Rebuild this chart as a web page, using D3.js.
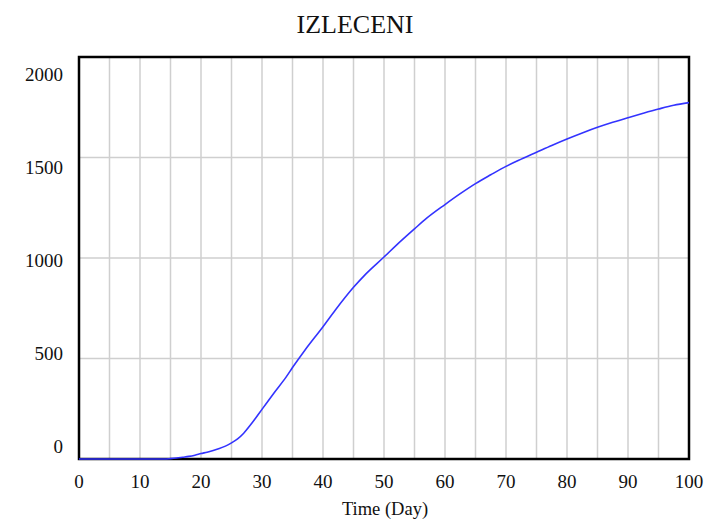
<!DOCTYPE html>
<html>
<head>
<meta charset="utf-8">
<script src="https://cdn.jsdelivr.net/npm/d3@7/dist/d3.min.js"></script>
<style>
  html, body { margin: 0; padding: 0; background: #fff; }
  svg { display: block; }
  text { font-family: "Liberation Serif", "Times New Roman", serif; fill: #111; }
</style>
</head>
<body>
<script>
// Recovered patients over time
const chartTitle = "IZLECENI";
const xAxisTitle = "Time (Day)";
const days = [0, 5, 10, 14, 15, 16, 17, 18, 19, 20, 21, 22, 23, 24, 25, 26, 27, 28, 29, 30,
  32, 34, 35, 37, 40, 42, 45, 47, 50, 52, 55, 57, 60, 62.5, 65, 67.5, 70, 72.5, 75, 77.5,
  80, 82.5, 85, 87.5, 90, 92.5, 95, 97.5, 100];
const recovered = [0, 0, 0, 0, 2, 5, 9, 13, 19, 27, 34, 42, 52, 64, 80, 100, 128, 165, 205, 247,
  330, 410, 455, 540, 658, 740, 854, 920, 1005, 1063, 1145, 1198, 1266, 1320, 1370, 1414, 1456, 1492, 1526, 1560,
  1592, 1622, 1650, 1675, 1698, 1720, 1741, 1760, 1773];
const xTicks = [0, 10, 20, 30, 40, 50, 60, 70, 80, 90, 100];
const xGrid = [5, 10, 15, 20, 25, 30, 35, 40, 45, 50, 55, 60, 65, 70, 75, 80, 85, 90, 95];
const yTicks = [0, 500, 1000, 1500, 2000];
const yGrid = [500, 1000, 1500];

const W = 707, H = 523;
const plot = { left: 79, right: 689, top: 57, bottom: 459 };

const svg = d3.select("body").append("svg").attr("width", W).attr("height", H);

const x = d3.scaleLinear().domain([0, 100]).range([plot.left, plot.right]);
const y = d3.scaleLinear().domain([0, 2000]).range([plot.bottom, plot.top]);
// tick labels are laid out on their own slightly compressed band
const yLabel = d3.scaleLinear().domain([0, 2000]).range([452.5, 80.5]);

// grid
svg.append("g").selectAll("line").data(xGrid).join("line")
  .attr("x1", d => x(d)).attr("x2", d => x(d))
  .attr("y1", plot.top).attr("y2", plot.bottom)
  .attr("stroke", "#cfcfcf").attr("stroke-width", 1.5);
svg.append("g").selectAll("line").data(yGrid).join("line")
  .attr("x1", plot.left).attr("x2", plot.right)
  .attr("y1", d => y(d)).attr("y2", d => y(d))
  .attr("stroke", "#cfcfcf").attr("stroke-width", 1.5);

// frame
svg.append("rect")
  .attr("x", plot.left).attr("y", plot.top)
  .attr("width", plot.right - plot.left).attr("height", plot.bottom - plot.top)
  .attr("fill", "none").attr("stroke", "#000").attr("stroke-width", 2.5);

// series
const line = d3.line().x((d, i) => x(days[i])).y(d => y(d)).curve(d3.curveMonotoneX);
svg.append("path").datum(recovered)
  .attr("d", line)
  .attr("fill", "none").attr("stroke", "#3333ff").attr("stroke-width", 1.6);

// x tick labels
svg.append("g").selectAll("text").data(xTicks).join("text")
  .attr("x", d => x(d)).attr("y", 488)
  .attr("text-anchor", "middle").attr("font-size", 19)
  .text(d => d);

// y tick labels
svg.append("g").selectAll("text").data(yTicks).join("text")
  .attr("x", 63).attr("y", d => yLabel(d))
  .attr("text-anchor", "end").attr("font-size", 19)
  .text(d => d);

// titles
svg.append("text").attr("x", 355).attr("y", 33)
  .attr("text-anchor", "middle").attr("font-size", 26).text(chartTitle);
svg.append("text").attr("x", 385).attr("y", 515)
  .attr("text-anchor", "middle").attr("font-size", 18.5).text(xAxisTitle);
</script>
</body>
</html>
